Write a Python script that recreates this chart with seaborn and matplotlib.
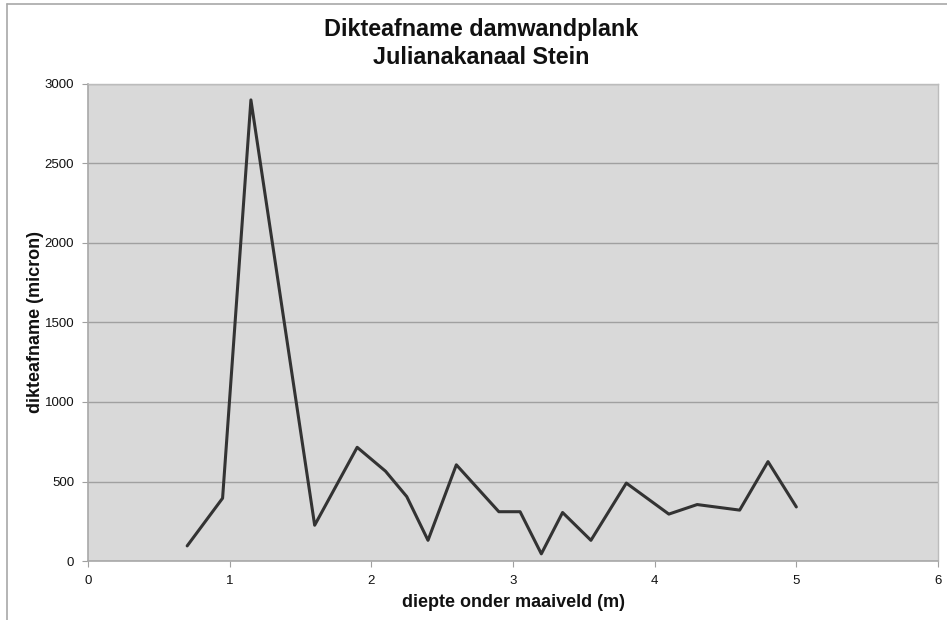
import matplotlib
matplotlib.use("Agg")
import matplotlib.pyplot as plt
import matplotlib.lines as mlines
import seaborn as sns
import pandas as pd

# Measured thickness loss along the sheet pile
diepte = [0.70, 0.95, 1.15, 1.60, 1.90, 2.10, 2.25, 2.40, 2.60, 2.90, 3.05,
          3.20, 3.35, 3.55, 3.80, 4.10, 4.30, 4.60, 4.80, 5.00]
dikteafname = [95, 395, 2900, 225, 715, 565, 405, 130, 605, 310, 310,
               45, 305, 130, 490, 295, 355, 320, 625, 340]

x_ticks = [0, 1, 2, 3, 4, 5, 6]
y_ticks = [0, 500, 1000, 1500, 2000, 2500, 3000]

df = pd.DataFrame({"diepte": diepte, "dikteafname": dikteafname})

sns.set_theme(style="white")
plt.rcParams["font.family"] = ["Liberation Sans", "DejaVu Sans"]

fig = plt.figure(figsize=(9.47, 6.2), dpi=100)
ax = fig.add_axes([88 / 947, 1 - 561 / 620, 850 / 947, 477 / 620])
ax.set_facecolor("#d9d9d9")

sns.lineplot(data=df, x="diepte", y="dikteafname", ax=ax, color="#333333",
             linewidth=2.2, sort=False, estimator=None)

ax.set_xlim(0, 6)
ax.set_ylim(0, 3000)
ax.set_xticks(x_ticks)
ax.set_yticks(y_ticks)
ax.set_xticklabels([str(t) for t in x_ticks])
ax.set_yticklabels([str(t) for t in y_ticks])
ax.yaxis.grid(True, color="#a0a0a0", linewidth=1.0)
ax.xaxis.grid(False)
ax.set_axisbelow(True)

for side in ["top", "right"]:
    ax.spines[side].set_color("#bcbcbc")
    ax.spines[side].set_linewidth(1.0)
for side in ["left", "bottom"]:
    ax.spines[side].set_color("#a8a8a8")
    ax.spines[side].set_linewidth(1.2)

ax.tick_params(axis="both", which="major", length=4, width=0.8, color="#a0a0a0",
               labelsize=9.5, labelcolor="#111111", direction="out", bottom=True, left=True)
ax.tick_params(axis="x", pad=6)
ax.tick_params(axis="y", pad=6)

ax.set_xlabel("diepte onder maaiveld (m)", fontsize=13, fontweight="bold",
              color="#111111", labelpad=5)
ax.set_ylabel("dikteafname (micron)", fontsize=13, fontweight="bold",
              color="#111111", labelpad=0.5)

fig.text(481 / 947, 1 - 43.5 / 620, "Dikteafname damwandplank\nJulianakanaal Stein",
         ha="center", va="center", fontsize=16.8, fontweight="bold",
         color="#111111", linespacing=1.28)

# Chart frame on the left and top edges
fig.add_artist(mlines.Line2D([7 / 947, 7 / 947], [0, 1 - 4 / 620],
                             transform=fig.transFigure, color="#a8a8a8", linewidth=1.2))
fig.add_artist(mlines.Line2D([7 / 947, 1], [1 - 4 / 620, 1 - 4 / 620],
                             transform=fig.transFigure, color="#a8a8a8", linewidth=1.2))

fig.savefig("out.png", dpi=100, facecolor="white")
